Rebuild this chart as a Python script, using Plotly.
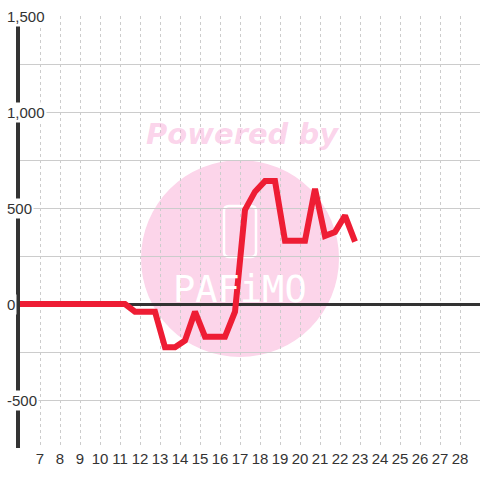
import plotly.graph_objects as go

# ---- data ----
x_vals = [5.75, 6.25, 6.75, 7.25, 7.75, 8.25, 8.75, 9.25, 9.75, 10.25, 10.75, 11.25,
          11.75, 12.25, 12.75, 13.25, 13.75, 14.25, 14.75, 15.25, 15.75, 16.25, 16.75,
          17.25, 17.75, 18.25, 18.75, 19.25, 19.75, 20.25, 20.75, 21.25, 21.75, 22.25, 22.75]
y_vals = [0, 0, 0, 0, 0, 0, 0, 0, 0, 0, 0, 0,
          -40, -40, -40, -225, -225, -190, -40, -170, -170, -170, -40,
          490, 585, 640, 640, 330, 330, 330, 600, 355, 375, 460, 325]

x_ticks = [7, 8, 9, 10, 11, 12, 13, 14, 15, 16, 17, 18, 19, 20, 21, 22, 23, 24, 25, 26, 27, 28]
x_tick_labels = [str(v) for v in x_ticks]
y_ticks = [-500, 0, 500, 1000, 1500]
y_tick_labels = ["-500", "0", "500", "1,000", "1,500"]

W, H = 480, 480
L, R, T, B = 20, 0, 16, 32
PW, PH = W - L - R, H - T - B


def px(xp):
    return (xp - L) / PW


def py(yp):
    return (H - B - yp) / PH


fig = go.Figure()
fig.add_trace(go.Scatter(
    x=x_vals, y=y_vals, mode="lines",
    line=dict(color="#ee1d34", width=6),
    hoverinfo="skip", showlegend=False,
))

shapes = [
    # watermark circle
    dict(type="circle", xref="paper", yref="paper", layer="below",
         x0=px(141), x1=px(339), y0=py(357), y1=py(160),
         fillcolor="#fcd5ea", line=dict(width=0)),
    # phone icon (rounded rect outline)
    dict(type="path", xref="paper", yref="paper", layer="below",
         path=(f"M {px(229)},{py(206)} L {px(251)},{py(206)} "
               f"Q {px(256)},{py(206)} {px(256)},{py(211)} L {px(256)},{py(252)} "
               f"Q {px(256)},{py(257)} {px(251)},{py(257)} L {px(229)},{py(257)} "
               f"Q {px(224)},{py(257)} {px(224)},{py(252)} L {px(224)},{py(211)} "
               f"Q {px(224)},{py(206)} {px(229)},{py(206)} Z"),
         line=dict(color="white", width=2.5)),
]

annotations = [
    dict(text="Powered by", xref="paper", yref="paper", x=px(242), y=py(134),
         xanchor="center", yanchor="middle", showarrow=False,
         font=dict(family="DejaVu Sans", size=29, color="rgba(247,160,210,0.45)",
                   weight="bold", style="italic")),
    dict(text="PAFiMO", xref="paper", yref="paper", x=px(240), y=py(289),
         xanchor="center", yanchor="middle", showarrow=False,
         font=dict(family="DejaVu Sans Mono", size=37, color="white")),
]

for v, lab in zip(y_ticks, y_tick_labels):
    annotations.append(dict(
        text=lab, xref="paper", yref="y", x=px(5), y=v,
        xanchor="left", yanchor="middle", showarrow=False,
        bgcolor="white", borderpad=1,
        font=dict(family="Liberation Sans", size=15, color="#333333")))

fig.update_layout(
    width=W, height=H,
    margin=dict(l=L, r=R, t=T, b=B),
    paper_bgcolor="white", plot_bgcolor="white",
    showlegend=False,
    shapes=shapes, annotations=annotations,
    xaxis=dict(range=[6, 29], tickvals=x_ticks, ticktext=x_tick_labels,
               showgrid=True, gridcolor="#cccccc", gridwidth=1, griddash="3px,3px",
               zeroline=False, showline=False, ticks="", ticklen=0,
               tickfont=dict(family="Liberation Sans", size=15, color="#333333"),
               fixedrange=True),
    yaxis=dict(range=[-750, 1500], tick0=-750, dtick=250,
               showgrid=True, gridcolor="#cccccc", gridwidth=1,
               zeroline=True, zerolinecolor="#333333", zerolinewidth=3,
               showline=True, linecolor="#333333", linewidth=4,
               showticklabels=False, ticks="", fixedrange=True),
)

fig.write_html("out.html", config={"displayModeBar": False},
               post_script="document.body.style.margin='0';document.body.style.overflow='hidden';")
